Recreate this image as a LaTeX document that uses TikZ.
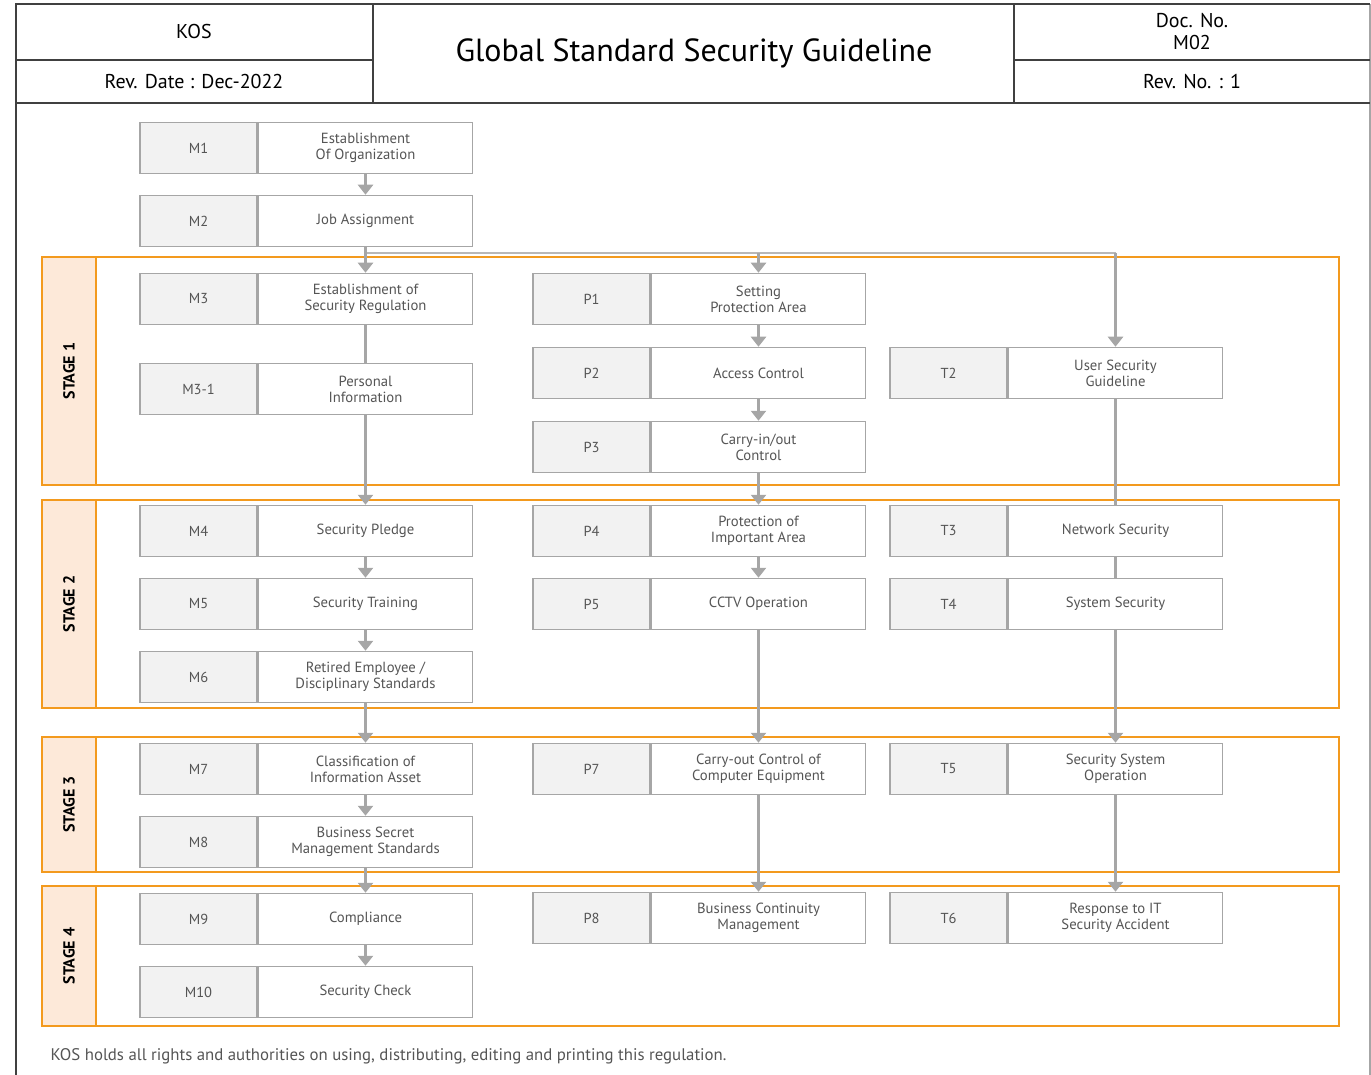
\documentclass[tikz,border=0pt]{standalone}
\usepackage{fontspec}
\setmainfont{PT Sans}
\usetikzlibrary{positioning,arrows.meta,calc}
\definecolor{linegray}{HTML}{A6A6A6}
\definecolor{idfill}{HTML}{F2F2F2}
\definecolor{stageorange}{HTML}{F39A1E}
\definecolor{stagefill}{HTML}{FDE9D9}
\definecolor{textgray}{HTML}{555555}
\definecolor{framegray}{HTML}{404040}
\tikzset{
  idbox/.style={draw=linegray, line width=1.5pt, fill=idfill, minimum width=117pt,
    minimum height=51pt, inner sep=0pt, text=textgray, font=\fontsize{14.5}{16}\selectfont},
  taskbox/.style={draw=linegray, line width=1.5pt, fill=white, minimum width=214pt,
    minimum height=51pt, inner sep=0pt, align=center, text=textgray, font=\fontsize{14.7}{16}\selectfont},
  flow/.style={draw=linegray, line width=3pt, -{Triangle[width=15pt,length=10pt]}},
  link/.style={draw=linegray, line width=3pt},
  forkline/.style={draw=linegray!80, line width=1.5pt},
  stagebox/.style={draw=stageorange, line width=1.5pt},
  stageband/.style={draw=stageorange, line width=1.5pt, fill=stagefill},
  header/.style={font=\fontsize{20}{22}\selectfont, align=center}
}
\begin{document}
\begin{tikzpicture}[x=1pt, y=-1pt]
\useasboundingbox (0,0) rectangle (1371,1075);
% frame and header
\draw[line width=1.2pt, linegray] (1370,4) -- (1370,1075);
\draw[line width=1.5pt, framegray] (16,1075) -- (16,4) -- (1370,4);
\draw[line width=1.5pt, framegray] (16,103) -- (1370,103);
\draw[line width=1.5pt, framegray] (373,4) -- (373,103) (1014,4) -- (1014,103);
\draw[line width=1.5pt, framegray] (16,60) -- (373,60) (1014,60) -- (1370,60);
\node[header] (kos) at (194,32) {KOS};
\node[header] (revdate) at (194,82) {Rev. Date : Dec-2022};
\node[font=\fontsize{32}{36}\selectfont] (title) at (694,53) {Global Standard Security Guideline};
\node[header] (docno) at (1192,32) {Doc. No.\\M02};
\node[header] (revno) at (1192,82) {Rev. No. : 1};
% stages
\foreach \i/\top/\bot in {1/257/485, 2/500/708, 3/737/872, 4/886/1026} {
  \draw[stagebox] (42,\top) rectangle (1339,\bot);
  \draw[stageband] (42,\top) rectangle (96,\bot);
  \node[rotate=90, font=\bfseries\fontsize{16}{18}\selectfont] (stage\i) at (69,{(\top+\bot)/2}) {STAGE \i};
}
% boxes
\foreach \id/\lbl/\x/\y/\txt in {
  m1/M1/198.5/148/{Establishment\\Of Organization},
  m2/M2/198.5/221/{Job Assignment},
  m3/M3/198.5/299/{Establishment of\\Security Regulation},
  m31/M3-1/198.5/389/{Personal\\Information},
  m4/M4/198.5/531/{Security Pledge},
  m5/M5/198.5/604/{Security Training},
  m6/M6/198.5/677/{Retired Employee /\\Disciplinary Standards},
  m7/M7/198.5/769/{Classification of\\Information Asset},
  m8/M8/198.5/842/{Business Secret\\Management Standards},
  m9/M9/198.5/919/{Compliance},
  m10/M10/198.5/992/{Security Check},
  p1/P1/591.5/299/{Setting\\Protection Area},
  p2/P2/591.5/373/{Access Control},
  p3/P3/591.5/447/{Carry-in/out\\Control},
  p4/P4/591.5/531/{Protection of\\Important Area},
  p5/P5/591.5/604/{CCTV Operation},
  p7/P7/591.5/769/{Carry-out Control of\\Computer Equipment},
  p8/P8/591.5/918/{Business Continuity\\Management},
  t2/T2/948.5/373/{User Security\\Guideline},
  t3/T3/948.5/531/{Network Security},
  t4/T4/948.5/604/{System Security},
  t5/T5/948.5/769/{Security System\\Operation},
  t6/T6/948.5/918/{Response to IT\\Security Accident}} {
  \node[idbox] (\id) at (\x,\y) {\lbl};
  \node[taskbox, right=0pt of \id] (\id-t) {\txt};
}
% connectors
\coordinate (fork) at ($(m2-t.south)+(0,6)$);
\draw[forkline] (fork) -- (fork -| t2-t);
\draw[flow] (fork -| p1-t) -- (p1-t.north);
\draw[flow] (fork -| t2-t) -- (t2-t.north);
\draw[flow] (m1-t.south) -- (m2-t.north);
\draw[flow] (m2-t.south) -- (m3-t.north);
\draw[link] (m3-t.south) -- (m31-t.north);
\draw[flow] (m31-t.south) -- (m4-t.north);
\draw[flow] (m4-t.south) -- (m5-t.north);
\draw[flow] (m5-t.south) -- (m6-t.north);
\draw[flow] (m6-t.south) -- (m7-t.north);
\draw[flow] (m7-t.south) -- (m8-t.north);
\draw[flow] (m8-t.south) -- (m9-t.north);
\draw[flow] (m9-t.south) -- (m10-t.north);
\draw[flow] (p1-t.south) -- (p2-t.north);
\draw[flow] (p2-t.south) -- (p3-t.north);
\draw[flow] (p3-t.south) -- (p4-t.north);
\draw[flow] (p4-t.south) -- (p5-t.north);
\draw[flow] (p5-t.south) -- (p7-t.north);
\draw[flow] (p7-t.south) -- (p8-t.north);
\draw[link] (t2-t.south) -- (t3-t.north);
\draw[link] (t3-t.south) -- (t4-t.north);
\draw[flow] (t4-t.south) -- (t5-t.north);
\draw[flow] (t5-t.south) -- (t6-t.north);
% footer
\node[anchor=west, text=textgray, font=\fontsize{16.8}{18}\selectfont] (note) at (47,1056)
  {KOS holds all rights and authorities on using, distributing, editing and printing this regulation.};
\end{tikzpicture}
\end{document}
